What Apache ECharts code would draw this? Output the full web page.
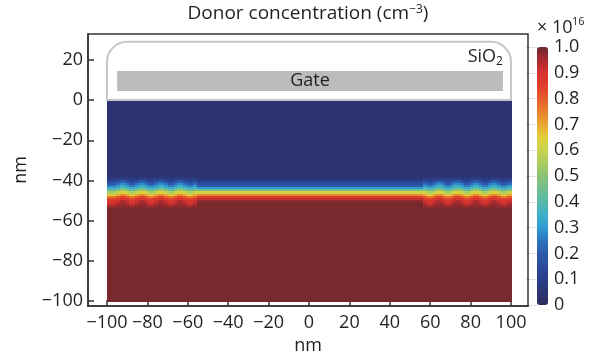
<!DOCTYPE html>
<html>
<head>
<meta charset="utf-8">
<script src="https://cdn.jsdelivr.net/npm/echarts@6/dist/echarts.min.js"></script>
<style>
html,body{margin:0;padding:0;background:#fff;}
#main{width:601px;height:355px;}
</style>
</head>
<body>
<div id="main"></div>
<script>
// tick labels
var xTicks = [-100, -80, -60, -40, -20, 0, 20, 40, 60, 80, 100];
var yTicks = [-100, -80, -60, -40, -20, 0, 20];
var colorTicks = [0, 0.1, 0.2, 0.3, 0.4, 0.5, 0.6, 0.7, 0.8, 0.9, 1.0];

// row edges in depth (nm): oxide interface at 0, bulk bottom at -100
var rowEdges = [0, -38.5, -39.5, -40.5, -41.5, -42.5, -43.5, -44.5, -45.5, -46.5, -47.5, -48.5, -49.5, -50.5, -51.5, -52.5, -53.5, -100];

// donor concentration per row (x10^16 cm^-3)
var centreProfile = [0.04, 0.05, 0.08, 0.12, 0.16, 0.2, 0.3, 0.45, 0.62, 0.74, 0.86, 0.92, 0.97, 0.99, 0.99, 0.99, 0.99];
var dotProfile    = [0.04, 0.06, 0.1, 0.15, 0.2, 0.26, 0.34, 0.42, 0.55, 0.66, 0.76, 0.84, 0.88, 0.9, 0.93, 0.97, 0.99];
var midProfile    = [0.04, 0.07, 0.12, 0.18, 0.24, 0.3, 0.37, 0.47, 0.6, 0.7, 0.8, 0.87, 0.91, 0.93, 0.96, 0.975, 0.99];
var gapProfile    = [0.04, 0.08, 0.14, 0.22, 0.28, 0.34, 0.4, 0.52, 0.64, 0.74, 0.84, 0.9, 0.94, 0.96, 0.97, 0.98, 0.99];

// column edges (nm) and which profile each column shows
var colEdges = [-100, -95.5, -93.75, -90.75, -89, -86, -84.25, -81.25, -79.5, -76.5, -74.75, -71.75, -70, -67, -65.25, -62.25, -60.5, -57.5, -55.5,
                56.5, 58.5, 61.5, 63, 66, 67.5, 70.5, 72, 75, 76.5, 79.5, 81, 84, 85.5, 88.5, 90, 93, 95, 98, 100];
var colTypes = ['dot', 'mid', 'gap', 'mid', 'dot', 'mid', 'gap', 'mid', 'dot', 'mid', 'gap', 'mid', 'dot', 'mid', 'gap', 'mid', 'dot', 'mid',
                'centre',
                'mid', 'dot', 'mid', 'gap', 'mid', 'dot', 'mid', 'gap', 'mid', 'dot', 'mid', 'gap', 'mid', 'dot', 'mid', 'gap', 'mid', 'dot', 'mid'];

// oxide and gate outlines [x0, x1, y0, y1] in nm
var oxideBox = [-100, 100, 0, 29];
var gateBox = [-95, 96, 4.5, 14.5];
var sio2Label = [96, 21.5];

var profiles = {centre: centreProfile, dot: dotProfile, mid: midProfile, gap: gapProfile};
var cells = [];
for (var c = 0; c < colTypes.length; c++) {
    var prof = profiles[colTypes[c]];
    for (var r = 0; r < prof.length; r++) {
        cells.push([colEdges[c], colEdges[c + 1], rowEdges[r], rowEdges[r + 1], prof[r]]);
    }
}

var font = 'Open Sans';
var ink = '#231f20';

function minus(v) {
    return String(v).replace('-', '\u2212');
}

function renderCell(params, api) {
    var p0 = api.coord([api.value(0), api.value(2)]);
    var p1 = api.coord([api.value(1), api.value(3)]);
    var x0 = Math.round(Math.min(p0[0], p1[0])), x1 = Math.round(Math.max(p0[0], p1[0]));
    var y0 = Math.round(Math.min(p0[1], p1[1])), y1 = Math.round(Math.max(p0[1], p1[1]));
    return {
        type: 'rect',
        shape: {x: x0, y: y0, width: x1 - x0 + 1, height: y1 - y0 + 1},
        style: {fill: api.visual('color')}
    };
}

function renderOxide(params, api) {
    var p0 = api.coord([api.value(0), api.value(2)]);
    var p1 = api.coord([api.value(1), api.value(3)]);
    var x = Math.min(p0[0], p1[0]), y = Math.min(p0[1], p1[1]);
    var w = Math.abs(p1[0] - p0[0]), h = Math.abs(p1[1] - p0[1]);
    if (params.dataIndex === 0) {
        var lp = api.coord(sio2Label);
        return {
            type: 'group',
            children: [{
                type: 'rect',
                shape: {x: x, y: y, width: w, height: h, r: [20, 20, 0, 0]},
                style: {fill: '#fff', stroke: '#c8c8c8', lineWidth: 2}
            }, {
                type: 'text',
                x: lp[0], y: lp[1],
                style: {
                    text: '{a|SiO}{b|2}',
                    align: 'right',
                    verticalAlign: 'middle',
                    rich: {
                        a: {fontFamily: font, fontSize: 18, fill: ink},
                        b: {fontFamily: font, fontSize: 12, fill: ink, verticalAlign: 'bottom', padding: [10, 0, 0, 0]}
                    }
                }
            }]
        };
    }
    return {
        type: 'group',
        children: [{
            type: 'rect',
            shape: {x: x, y: y, width: w, height: h},
            style: {fill: '#bcbcbc'}
        }, {
            type: 'text',
            x: x + w / 2, y: y + h / 2,
            style: {
                text: 'Gate', align: 'center', verticalAlign: 'middle',
                fontFamily: font, fontSize: 18, fill: ink
            }
        }]
    };
}

var myChart = echarts.init(document.getElementById('main'));
var option = {
    animation: false,
    backgroundColor: '#fff',
    title: {
        text: '{a|Donor concentration (cm}{b|\u22123}{a|)}',
        left: 308,
        top: 4,
        padding: 0,
        textAlign: 'center',
        textStyle: {
            rich: {
                a: {fontFamily: font, fontSize: 19, fontWeight: 'normal', color: ink},
                b: {fontFamily: font, fontSize: 12, fontWeight: 'normal', color: ink, verticalAlign: 'top', padding: [0, 0, 8, 0]}
            }
        }
    },
    // colour bar multiplier
    graphic: [{
        type: 'text',
        left: 537, top: 19,
        style: {text: '\u00d7 10', fontFamily: font, fontSize: 18, fill: ink}
    }, {
        type: 'text',
        left: 572, top: 16,
        style: {text: '16', fontFamily: font, fontSize: 11, fill: ink}
    }],
    grid: [{
        left: 88, top: 34, width: 440, height: 272,
        show: true, borderColor: '#333', borderWidth: 1.5, backgroundColor: 'transparent',
        containLabel: false, outerBoundsMode: 'none'
    }, {
        left: 537, top: 47, width: 11, height: 258,
        containLabel: false, outerBoundsMode: 'none'
    }],
    xAxis: [{
        type: 'value', gridIndex: 0, min: -109.4, max: 108.4,
        name: 'nm', nameLocation: 'middle', nameGap: 28,
        nameTextStyle: {fontFamily: font, fontSize: 18, color: ink},
        axisLine: {onZero: false, lineStyle: {color: '#333', width: 1.5}},
        axisTick: {inside: true, length: 6, customValues: xTicks, lineStyle: {color: '#333', width: 1.5}},
        axisLabel: {customValues: xTicks, margin: 8, fontFamily: font, fontSize: 18, color: ink, formatter: minus},
        splitLine: {show: false}
    }, {
        type: 'value', gridIndex: 1, min: 0, max: 1, show: false
    }],
    yAxis: [{
        type: 'value', gridIndex: 0, min: -102.5, max: 32.9,
        name: 'nm', nameLocation: 'middle', nameGap: 58,
        nameTextStyle: {fontFamily: font, fontSize: 18, color: ink},
        axisLine: {onZero: false, lineStyle: {color: '#333', width: 1.5}},
        axisTick: {inside: true, length: 6, customValues: yTicks, lineStyle: {color: '#333', width: 1.5}},
        axisLabel: {customValues: yTicks, margin: 5, fontFamily: font, fontSize: 18, color: ink, formatter: minus},
        splitLine: {show: false}
    }, {
        type: 'value', gridIndex: 1, min: 0, max: 1, position: 'right',
        axisLine: {show: false},
        axisTick: {show: true, inside: true, length: 11, customValues: colorTicks, lineStyle: {color: 'rgba(0,0,0,0.12)'}},
        axisLabel: {
            customValues: colorTicks, margin: 6, fontFamily: font, fontSize: 18, color: ink,
            formatter: function (v) { return v === 0 ? '0' : v.toFixed(1); }
        },
        splitLine: {show: false}
    }],
    visualMap: {
        type: 'continuous',
        min: 0, max: 1,
        dimension: 4,
        seriesIndex: 0,
        left: 537, top: 47,
        itemWidth: 11, itemHeight: 258,
        padding: 0,
        text: null,
        showLabel: false,
        calculable: false,
        hoverLink: false,
        inRange: {
            color: ['#2d2d5e', '#2c3574', '#2b3e8c', '#2b4c9c', '#2c5aa8', '#2d74bd', '#2f9dd3',
                    '#3fb0c6', '#58b8aa', '#70bd90', '#8bc277', '#aacc60', '#c8d44e', '#e2cf3a',
                    '#e9a631', '#e8802c', '#e45c2b', '#df3d2d', '#d5312f', '#a82b2e', '#6d282d']
        }
    },
    series: [{
        type: 'custom',
        xAxisIndex: 0, yAxisIndex: 0,
        renderItem: renderCell,
        encode: {x: [0, 1], y: [2, 3]},
        data: cells,
        silent: true
    }, {
        type: 'custom',
        xAxisIndex: 0, yAxisIndex: 0,
        renderItem: renderOxide,
        encode: {x: [0, 1], y: [2, 3]},
        data: [oxideBox, gateBox],
        silent: true,
        z: 3
    }]
};
myChart.setOption(option);
</script>
</body>
</html>
